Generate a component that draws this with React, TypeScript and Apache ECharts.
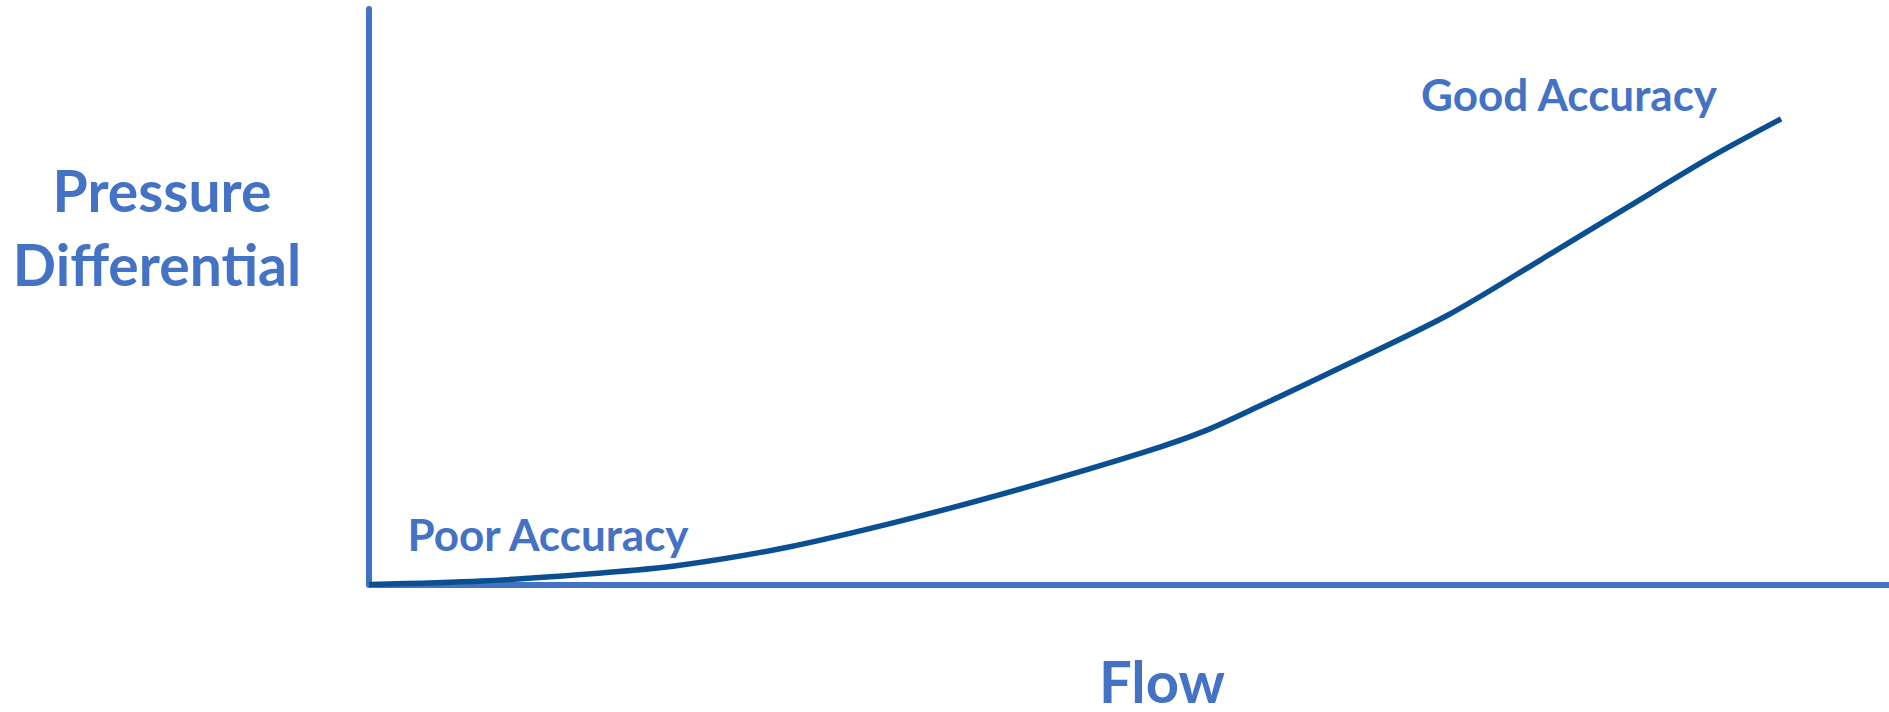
import React, { useEffect, useRef } from "react";
import * as echarts from "echarts";

const flow = [0, 7.4, 15.3, 20.1, 27.2, 35.2, 43.1, 51.0, 55.0, 58.9, 62.9, 70.9, 77.2, 82.7, 88.3, 92.9];
const pressure = [0, 0.6, 2.0, 3.2, 6.3, 11.2, 16.8, 23.0, 26.7, 31.4, 36.4, 46.7, 56.6, 65.4, 74.3, 80.9];

const xAxisTitle = "Flow";
const yAxisTitleLines = ["Pressure", "Differential"];
const lowLabel = "Poor Accuracy";
const highLabel = "Good Accuracy";

const AXIS_COLOR = "#4472C4";
const CURVE_COLOR = "#0B4F93";
const FONT = "Lato";

export default function App() {
  const ref = useRef<HTMLDivElement>(null);
  useEffect(() => {
    document.body.style.margin = "0";
    const chart = echarts.init(ref.current!, undefined, { renderer: "svg" });
    const textStyle = (size: number) => ({
      fill: AXIS_COLOR,
      font: `bold ${size}px ${FONT}`,
      textAlign: "center",
      textVerticalAlign: "middle",
      lineHeight: Math.round(size * 0.75),
    });
    chart.setOption({
      animation: false,
      backgroundColor: "#ffffff",
      grid: { left: 369, right: 0, top: 9, bottom: 127.5 },
      xAxis: {
        type: "value",
        min: 0,
        max: 100,
        axisLine: { show: true, lineStyle: { color: AXIS_COLOR, width: 6 } },
        axisTick: { show: false },
        axisLabel: { show: false },
        splitLine: { show: false },
      },
      yAxis: {
        type: "value",
        min: 0,
        max: 100,
        axisLine: { show: true, lineStyle: { color: AXIS_COLOR, width: 6 } },
        axisTick: { show: false },
        axisLabel: { show: false },
        splitLine: { show: false },
      },
      series: [
        {
          type: "line",
          data: flow.map((f, i) => [f, pressure[i]]),
          smooth: 0.3,
          showSymbol: false,
          lineStyle: { color: CURVE_COLOR, width: 5.5 },
          z: 5,
        },
      ],
      graphic: [
        { type: "text", x: 162, y: 190, style: { text: yAxisTitleLines[0], ...textStyle(57) } },
        { type: "text", x: 157, y: 264, style: { text: yAxisTitleLines[1], ...textStyle(57) } },
        { type: "text", x: 1162, y: 680, style: { text: xAxisTitle, ...textStyle(58) } },
        { type: "text", x: 548, y: 534, style: { text: lowLabel, ...textStyle(44) } },
        { type: "text", x: 1569, y: 94, style: { text: highLabel, ...textStyle(44) } },
      ],
    });
    return () => chart.dispose();
  }, []);
  return <div ref={ref} style={{ width: 1889, height: 712 }} />;
}
